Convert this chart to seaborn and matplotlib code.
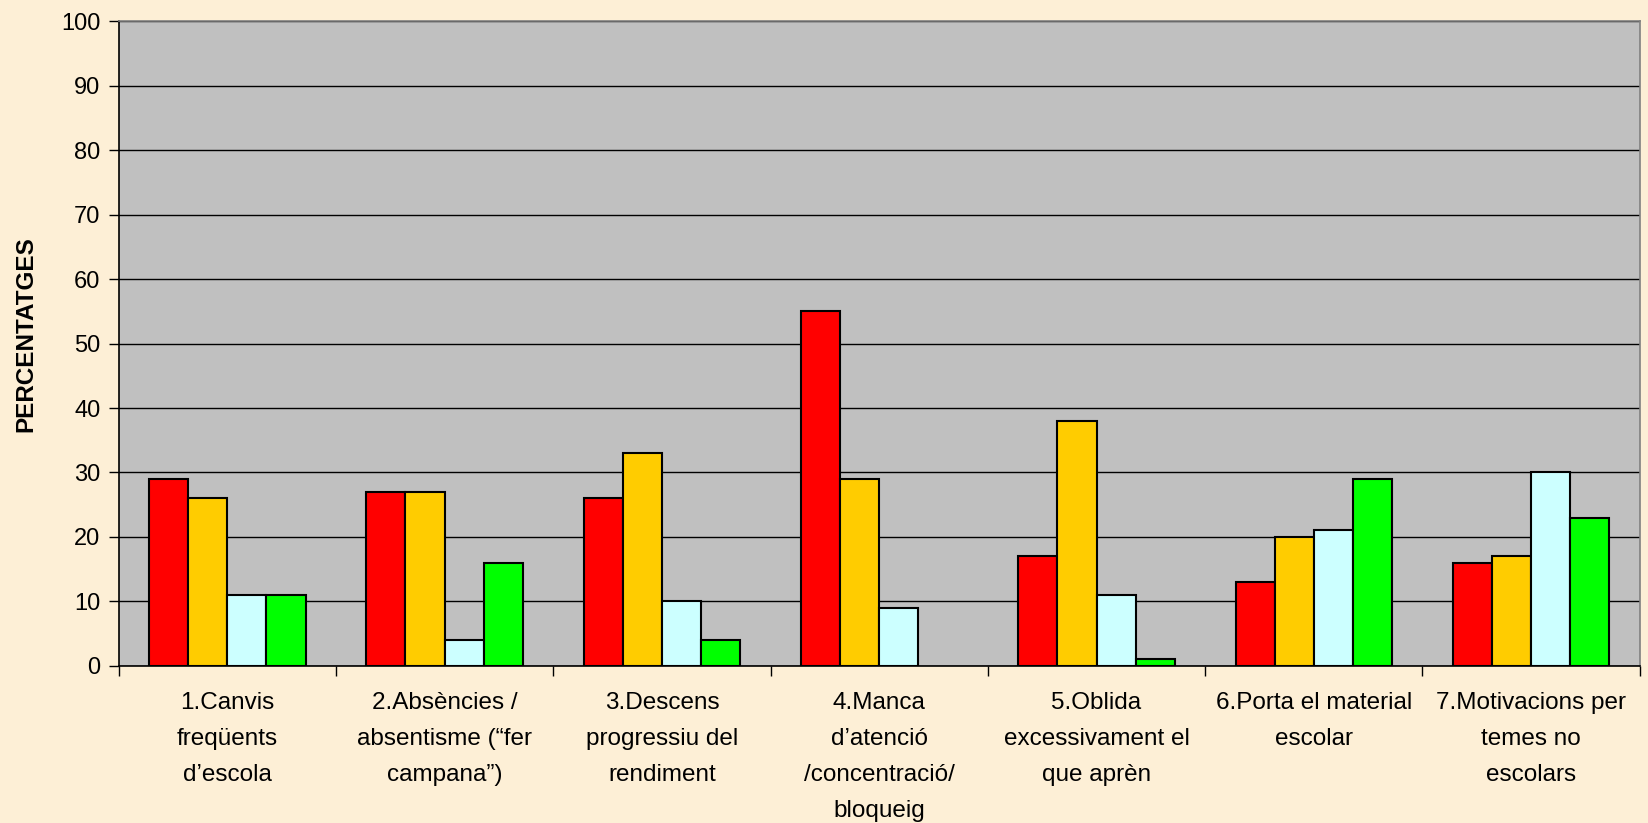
import pandas as pd
import matplotlib
matplotlib.use('Agg')
import matplotlib.pyplot as plt
import matplotlib.transforms as mtransforms
import seaborn as sns
from matplotlib.ticker import FixedLocator

# Categories (x axis labels)
categories = [
    "1.Canvis\nfreqüents\nd’escola",
    "2.Absències /\nabsentisme (“fer\ncampana”)",
    "3.Descens\nprogressiu del\nrendiment",
    "4.Manca\nd’atenció\n/concentració/\nbloqueig",
    "5.Oblida\nexcessivament el\nque aprèn",
    "6.Porta el material\nescolar",
    "7.Motivacions per\ntemes no\nescolars",
]

# Four series
series_names = ["Sèrie 1", "Sèrie 2", "Sèrie 3", "Sèrie 4"]
serie_1 = [29, 27, 26, 55, 17, 13, 16]
serie_2 = [26, 27, 33, 29, 38, 20, 17]
serie_3 = [11, 4, 10, 9, 11, 21, 30]
serie_4 = [11, 16, 4, 0, 1, 29, 23]

colors = ["#FF0000", "#FFCC00", "#CCFFFF", "#00FF00"]

# Build long-form table for seaborn
rows = []
for name, vals in zip(series_names, [serie_1, serie_2, serie_3, serie_4]):
    for cat, v in zip(categories, vals):
        rows.append({"categoria": cat, "serie": name, "valor": v})
df = pd.DataFrame(rows)

sns.set_style("white")
plt.rcParams['font.family'] = ['Liberation Sans', 'DejaVu Sans']
plt.rcParams['text.color'] = 'black'
plt.rcParams['xtick.color'] = 'black'
plt.rcParams['ytick.color'] = 'black'

bg = "#FDEFD6"
fig = plt.figure(figsize=(16.48, 8.23), dpi=100, facecolor=bg)
ax = fig.add_axes([0.072, 0.191, 0.923, 0.783])
ax.set_facecolor("#C0C0C0")

sns.barplot(data=df, x="categoria", y="valor", hue="serie", order=categories,
            hue_order=series_names, palette=colors, saturation=1, width=0.72,
            gap=0, edgecolor="black", linewidth=1.5, legend=False, ax=ax,
            zorder=3)

# the zero-height bar is not drawn in the reference
for p in ax.patches:
    if p.get_height() == 0:
        p.set_visible(False)

ax.set_ylim(0, 100)
ax.set_xlim(-0.5, len(categories) - 0.5)
ax.set_yticks(range(0, 101, 10))
ax.yaxis.grid(True, color="black", linewidth=1, zorder=0)
ax.set_axisbelow(True)

ax.tick_params(axis="y", labelsize=17, length=7, width=1, color="black",
               labelcolor="black", direction="out", left=True, pad=6)

# category labels: drawn as text so the wider line spacing is kept
ax.set_xticks(range(len(categories)))
ax.set_xticklabels([])
ax.tick_params(axis="x", which="major", length=0)
ax.xaxis.set_minor_locator(FixedLocator([i - 0.5 for i in range(len(categories) + 1)]))
ax.tick_params(axis="x", which="minor", length=7, width=1, color="black",
               direction="out", bottom=True)
lbl_trans = mtransforms.offset_copy(ax.get_xaxis_transform(), fig=fig,
                                    x=0, y=-19, units="points")
for i, cat in enumerate(categories):
    ax.text(i, 0, cat, transform=lbl_trans, ha="center", va="top",
            fontsize=17.5, linespacing=1.81, color="black", clip_on=False)

ax.set_xlabel("")
ax.set_ylabel("")
fig.text(26 / 1648, 1 - 334 / 823, "PERCENTATGES", rotation=90, fontsize=17.5,
         fontweight="bold", ha="center", va="center", color="black")

for side in ["left", "bottom"]:
    ax.spines[side].set_color("black")
    ax.spines[side].set_linewidth(1.2)
for side in ["top", "right"]:
    ax.spines[side].set_color("#808080")
    ax.spines[side].set_linewidth(1.2)

fig.savefig("out.png", dpi=100, facecolor=bg)
